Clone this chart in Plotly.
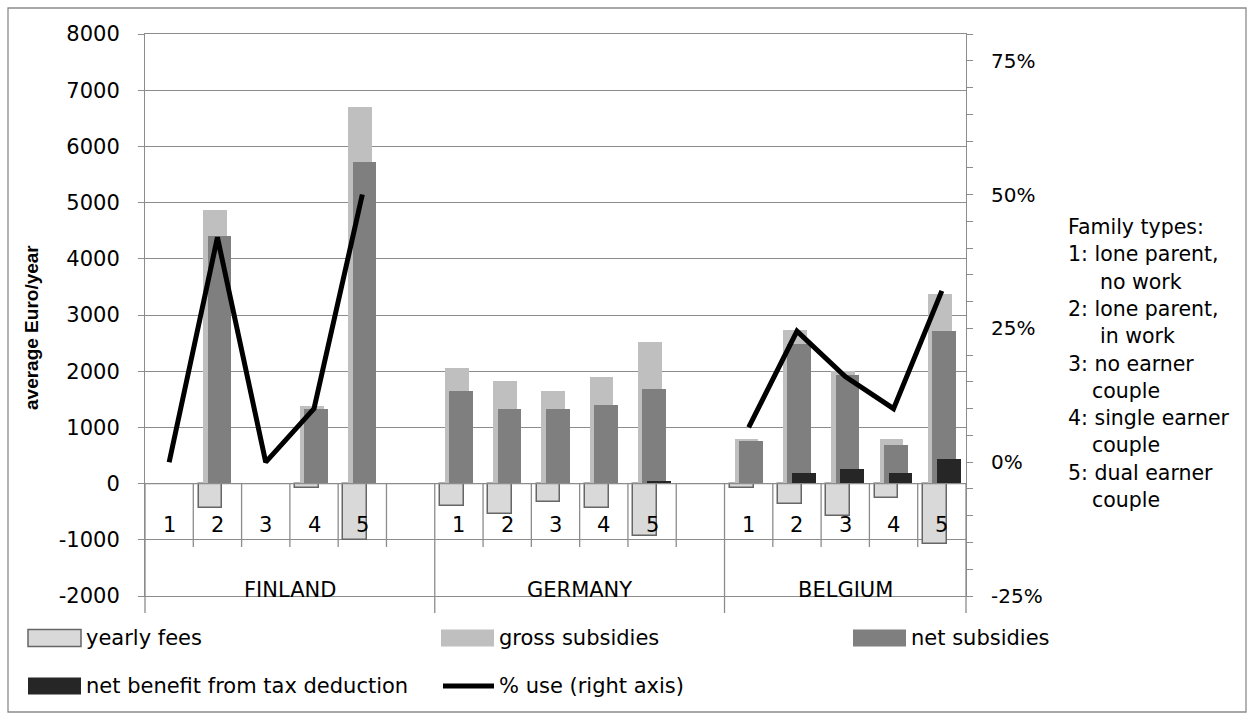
import plotly.graph_objects as go

# ---- data -------------------------------------------------------------
countries = ["FINLAND", "GERMANY", "BELGIUM"]
family_types = ["1", "2", "3", "4", "5"]

# Euro/year, ordered FINLAND 1-5, GERMANY 1-5, BELGIUM 1-5 (None = no bar)
yearly_fees = [None, -430, None, -80, -1000,
               -400, -540, -330, -435, -935,
               -75, -365, -580, -265, -1075]
gross_subsidies = [None, 4860, None, 1380, 6700,
                   2065, 1820, 1640, 1890, 2520,
                   785, 2740, 2000, 790, 3380]
net_subsidies = [None, 4400, None, 1320, 5720,
                 1640, 1320, 1320, 1390, 1675,
                 755, 2490, 1930, 685, 2710]
tax_deduction = [None, None, None, None, None,
                 None, None, None, None, 50,
                 None, 190, 255, 190, 435]
# % use (right axis); no figures for Germany
pct_use = [0, 42, 0, 10, 50,
           None, None, None, None, None,
           6.5, 24.5, 16, 10, 32]

series_names = ["yearly fees", "gross subsidies", "net subsidies",
                "net benefit from tax deduction", "% use (right axis)"]

# axis ticks
euro_ticks = [-2000, -1000, 0, 1000, 2000, 3000, 4000, 5000, 6000, 7000, 8000]
pct_ticks = [-25, 0, 25, 50, 75]

family_notes = ["Family types:",
                "1: lone parent,", "no work",
                "2: lone parent,", "in work",
                "3: no earner", "couple",
                "4: single earner", "couple",
                "5: dual earner", "couple"]

# ---- geometry ---------------------------------------------------------
W, H = 1254, 714
ML, MR, MT, MB = 145, 288, 34, 118
PW, PH = W - ML - MR, H - MT - MB

n_types = len(family_types)
# one empty slot after each country except the last
slots = [ci * (n_types + 1) + ti for ci in range(len(countries)) for ti in range(n_types)]
n_slots = len(countries) * (n_types + 1) - 1


def px_x(px):
    return (px - ML) / PW


def px_y(py):
    return (H - MB - py) / PH


def slot_x(v):
    return (v + 0.5) / n_slots


FONT = "DejaVu Sans"
GRID = "#8c8c8c"
C_FEES, C_GROSS, C_NET, C_TAX = "#d9d9d9", "#bfbfbf", "#7f7f7f", "#262626"
FEES_EDGE = "#666666"
BAR_W = 0.49

fig = go.Figure()

bar_specs = [
    (yearly_fees, series_names[0], C_FEES, -0.39, 1.5),
    (gross_subsidies, series_names[1], C_GROSS, -0.29, 0),
    (net_subsidies, series_names[2], C_NET, -0.20, 0),
    (tax_deduction, series_names[3], C_TAX, -0.10, 0),
]
for vals, name, col, off, lw in bar_specs:
    fig.add_trace(go.Bar(
        x=slots, y=vals, name=name, width=BAR_W, offset=off,
        marker=dict(color=col, line=dict(color=FEES_EDGE, width=lw)),
        showlegend=False, yaxis="y"))

fig.add_trace(go.Scatter(
    x=slots, y=pct_use, name=series_names[4], mode="lines",
    line=dict(color="black", width=5), connectgaps=False,
    showlegend=False, yaxis="y2"))

# ---- axes -------------------------------------------------------------
fig.update_layout(
    width=W, height=H, margin=dict(l=ML, r=MR, t=MT, b=MB),
    paper_bgcolor="white", plot_bgcolor="white",
    barmode="overlay", bargap=0,
    font=dict(family=FONT, size=20, color="black"),
    xaxis=dict(range=[-0.5, n_slots - 0.5], showticklabels=False, ticks="",
               showgrid=False, zeroline=False, showline=True, mirror=True,
               linecolor=GRID, linewidth=1),
    yaxis=dict(range=[euro_ticks[0], euro_ticks[-1]], tickmode="array",
               tickvals=euro_ticks, ticktext=[str(v) for v in euro_ticks],
               showgrid=True, gridcolor=GRID, gridwidth=1, zeroline=False,
               showline=True, linecolor=GRID, linewidth=1, ticks="outside",
               ticklen=6, tickcolor=GRID, tickfont=dict(family=FONT, size=21),
               ticklabelstandoff=14),
    yaxis2=dict(range=[-25, 80], overlaying="y", side="right", tickmode="array",
                tickvals=pct_ticks, ticktext=[f"{v}%" for v in pct_ticks],
                showgrid=False, zeroline=False, showline=True,
                linecolor=GRID, linewidth=1, ticks="outside", ticklen=6,
                tickcolor=GRID, tickfont=dict(family=FONT, size=20),
                ticklabelstandoff=14,
                minor=dict(dtick=5, tick0=0, ticks="outside", ticklen=6,
                           tickcolor=GRID, showgrid=False)),
)

shapes = []
annotations = []

# category axis sitting on the zero line
shapes.append(dict(type="line", xref="paper", yref="y", x0=0, x1=1, y0=0, y1=0,
                   line=dict(color=GRID, width=1.3), layer="above"))
y_zero_px = MT + PH * euro_ticks[-1] / (euro_ticks[-1] - euro_ticks[0])
group_edges = {-0.5}
for ci in range(len(countries)):
    last = ci * (n_types + 1) + (n_types if ci < len(countries) - 1 else n_types - 1)
    group_edges.add(last + 0.5)
for b in range(n_slots + 1):
    v = b - 0.5
    bottom = 613 if v in group_edges else 547
    shapes.append(dict(type="line", xref="paper", yref="paper",
                       x0=slot_x(v), x1=slot_x(v), y0=px_y(y_zero_px), y1=px_y(bottom),
                       line=dict(color=GRID, width=1.3), layer="above"))

for s, ti in zip(slots, [t for _ in countries for t in range(n_types)]):
    annotations.append(dict(text=family_types[ti], xref="x", yref="paper", x=s,
                            y=px_y(525), showarrow=False, xanchor="center",
                            yanchor="middle", font=dict(family=FONT, size=21)))
for ci, name in enumerate(countries):
    first = ci * (n_types + 1)
    last = first + (n_types if ci < len(countries) - 1 else n_types - 1)
    annotations.append(dict(text=name, xref="x", yref="paper", x=(first + last) / 2,
                            y=px_y(590), showarrow=False, xanchor="center",
                            yanchor="middle", font=dict(family=FONT, size=21)))

# left axis title
annotations.append(dict(text="<b>average Euro/year</b>", xref="paper", yref="paper",
                        x=px_x(32), y=px_y(327), textangle=-90, showarrow=False,
                        xanchor="center", yanchor="middle",
                        font=dict(family="Liberation Sans", size=19)))

# family type notes
for i, line in enumerate(family_notes):
    if line.endswith("work"):
        x = 1098
    elif i > 0 and i % 2 == 0:
        x = 1090
    else:
        x = 1066
    annotations.append(dict(text=line, xref="paper", yref="paper", x=px_x(x),
                            y=px_y(227 + i * 27.3), showarrow=False, xanchor="left",
                            yanchor="middle", font=dict(family=FONT, size=20.5)))

# legend
col_x = [28, 441, 853]
row_y = [638, 686]
KEY_W, KEY_H = 53, 17
legend_items = [
    (0, 0, "box", C_FEES, FEES_EDGE),
    (0, 1, "box", C_GROSS, None),
    (0, 2, "box", C_NET, None),
    (1, 0, "box", C_TAX, None),
    (1, 1, "line", "black", None),
]
for (r, c, kind, col, edge), name in zip(legend_items, series_names):
    x0, yc = col_x[c], row_y[r]
    if kind == "box":
        shapes.append(dict(type="rect", xref="paper", yref="paper",
                           x0=px_x(x0), x1=px_x(x0 + KEY_W),
                           y0=px_y(yc - KEY_H / 2), y1=px_y(yc + KEY_H / 2),
                           fillcolor=col,
                           line=dict(color=edge if edge else col, width=1.5 if edge else 0)))
    else:
        shapes.append(dict(type="line", xref="paper", yref="paper",
                           x0=px_x(x0 + 2), x1=px_x(x0 + KEY_W), y0=px_y(yc), y1=px_y(yc),
                           line=dict(color=col, width=5)))
    annotations.append(dict(text=name, xref="paper", yref="paper",
                            x=px_x(x0 + KEY_W + 3), y=px_y(yc), showarrow=False,
                            xanchor="left", yanchor="middle",
                            font=dict(family=FONT, size=21)))

# outer frame
shapes.append(dict(type="rect", xref="paper", yref="paper",
                   x0=px_x(8), x1=px_x(1246), y0=px_y(8), y1=px_y(712),
                   line=dict(color=GRID, width=1.3), fillcolor="rgba(0,0,0,0)",
                   layer="below"))

fig.update_layout(shapes=shapes, annotations=annotations)
fig.write_html("out.html")
